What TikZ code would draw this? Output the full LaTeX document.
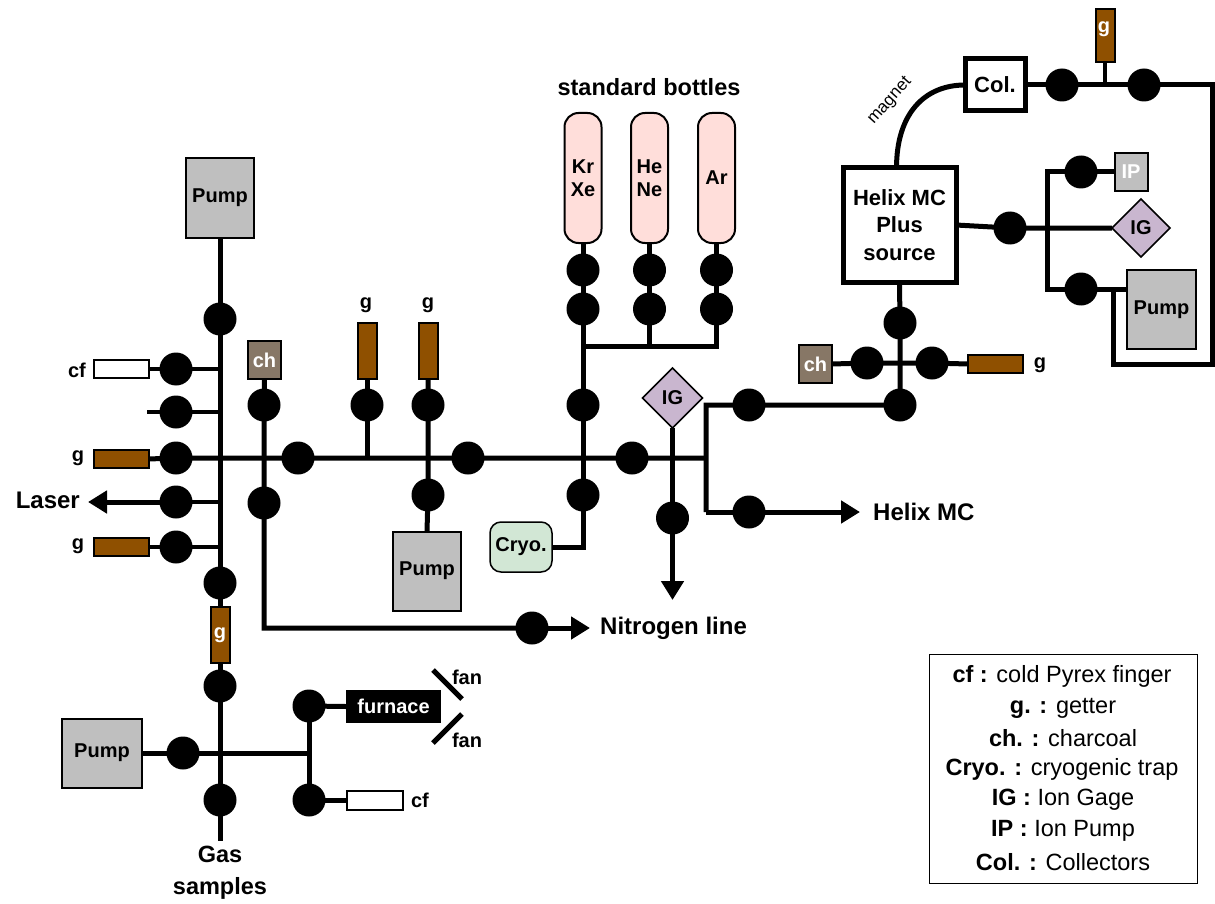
\documentclass[tikz,border=0pt]{standalone}
\usepackage{fontspec}
\setmainfont{Liberation Sans}
\usetikzlibrary{arrows.meta,backgrounds,shapes.geometric}
\definecolor{getter}{HTML}{8F5000}
\definecolor{pumpgray}{HTML}{BFBFBF}
\definecolor{charcoal}{HTML}{877766}
\definecolor{gage}{HTML}{C9B6CF}
\definecolor{bottle}{HTML}{FFDEDA}
\definecolor{cryo}{HTML}{D2E7D5}
\tikzset{
  pipe/.style={line width=5pt,line join=miter},
  thinpipe/.style={line width=4pt},
  flow/.style={pipe,-{Triangle[length=19pt,width=22pt]}},
  valve/.style={circle,fill=black,draw=none,minimum size=33pt,inner sep=0pt,outer sep=0pt},
  bx/.style={rectangle,draw=black,line width=2pt,inner sep=0pt,outer sep=0pt,font=\fontsize{20}{24}\selectfont\bfseries},
  pumpbox/.style={bx,fill=pumpgray},
  gh/.style={bx,fill=getter,minimum width=55pt,minimum height=18pt},
  gv/.style={bx,fill=getter,minimum width=19pt,minimum height=56pt,text=white},
  cfbox/.style={bx,fill=white,minimum width=55pt,minimum height=18pt},
  chbox/.style={bx,fill=charcoal,text=white,minimum width=33pt,minimum height=38pt},
  gagebox/.style={diamond,aspect=1,draw=black,line width=1.5pt,fill=gage,inner sep=0pt,outer sep=0pt,minimum size=60pt,font=\fontsize{20}{24}\selectfont\bfseries},
  bottlebox/.style={rectangle,rounded corners=14pt,draw=black,line width=2pt,fill=bottle,minimum width=37pt,minimum height=130pt,inner sep=0pt,outer sep=0pt,align=center,font=\fontsize{20}{24}\selectfont\bfseries},
  lab/.style={inner sep=0pt,font=\fontsize{20}{24}\selectfont\bfseries},
  biglab/.style={inner sep=0pt,font=\fontsize{24}{29}\selectfont\bfseries,align=center},
  legendline/.style={inner sep=0pt,font=\fontsize{23.5}{28}\selectfont}
}
\begin{document}
\begin{tikzpicture}[x=1pt,y=-1pt]
\useasboundingbox (0,0) rectangle (1215,904);
% upper left column
\node[pumpbox,minimum width=68pt,minimum height=79pt] (pumpT) at (220,198) {Pump};
\node[valve] (v1) at (220,319) {};
\node[valve] (vcf) at (176,369) {};
\node[valve] (vstub) at (176,412) {};
\node[valve] (vg1) at (176,458) {};
\node[valve] (vlaser) at (176,502) {};
\node[valve] (vg2) at (176,547) {};
\node[valve] (v2) at (220,583) {};
\node[gv,minimum height=56pt] (gcol) at (220,635) {g};
\node[valve] (v3) at (220,686) {};
\node[valve] (v4) at (220,800) {};
\node[cfbox] (cfL) at (121,369) {};
\node[gh] (gL1) at (121,459) {};
\node[gh] (gL2) at (121,547) {};
\node[lab] (cfLl) at (77,370) {cf};
\node[lab] (gL1l) at (78,458) {g};
\node[lab] (gL2l) at (78,546) {g};
\node[biglab,anchor=east] (laser) at (80,500) {Laser};
\coordinate (stub) at (147,412);
\coordinate (laserEnd) at (88,502);
\coordinate (jc1) at (220,369);
\coordinate (jc2) at (220,412);
\coordinate (jc3) at (220,502);
\coordinate (jc4) at (220,547);
\coordinate (bottomEnd) at (220,841);
% charcoal + nitrogen
\node[chbox] (ch1) at (264.5,360) {ch};
\node[valve] (vch1) at (264,405) {};
\node[valve] (vch2) at (264,503) {};
\node[valve] (vN) at (532,628) {};
\coordinate (cornerN) at (264,628);
\coordinate (nEnd) at (590,628);
\node[biglab,anchor=west] (nitro) at (600,628) {Nitrogen line};
% main line
\node[valve] (m1) at (298,458) {};
\node[valve] (m2) at (468,458) {};
\node[valve] (m3) at (632,458) {};
\coordinate (m4) at (706,458);
\node[gv] (g1) at (367,351) {};
\node[gv] (g2) at (428,351) {};
\node[lab] (g1l) at (366,305) {g};
\node[lab] (g2l) at (428,305) {g};
\node[valve] (vg3) at (367,405) {};
\node[valve] (vg4) at (428,405) {};
\node[valve] (vp) at (428,495) {};
\node[pumpbox,minimum width=68pt,minimum height=79pt] (pumpM) at (427,571) {Pump};
\coordinate (jg3) at (367,458);
% bottles
\node[biglab,font=\fontsize{23.5}{28}\selectfont\bfseries] (stdb) at (649,87) {standard bottles};
\node[bottlebox] (b1) at (583,178) {Kr\\[-1pt]Xe};
\node[bottlebox] (b2) at (649.5,178) {He\\[-1pt]Ne};
\node[bottlebox] (b3) at (716.5,178) {Ar};
\node[valve] (b1a) at (583,270) {};
\node[valve] (b1b) at (583,309) {};
\node[valve] (b2a) at (649.5,270) {};
\node[valve] (b2b) at (649.5,309) {};
\node[valve] (b3a) at (716.5,270) {};
\node[valve] (b3b) at (716.5,309) {};
\coordinate (jb1) at (583,346);
\coordinate (jb2) at (649.5,346);
\coordinate (jb3) at (716.5,346);
\node[valve] (c1) at (583,405) {};
\node[valve] (c2) at (583,495) {};
\node[rectangle,rounded corners=11pt,draw=black,line width=1.5pt,fill=cryo,minimum width=62pt,minimum height=50pt,inner sep=0pt,outer sep=0pt,font=\fontsize{20}{24}\selectfont\bfseries] (cryo) at (521,547) {Cryo.};
\coordinate (jcry) at (583,547);
% IG centre
\node[gagebox] (ig1) at (672.5,398) {IG};
\node[valve] (vig) at (672.5,518) {};
\coordinate (igEnd) at (672.5,600);
% helix branches
\coordinate (hTop) at (706,405);
\coordinate (hBot) at (706,512);
\node[valve] (h1) at (749,405) {};
\node[valve] (h2) at (749,512) {};
\coordinate (hEnd) at (860,512);
\node[biglab,anchor=west] (helixl) at (873,512) {Helix MC};
\node[valve] (s1) at (900,405) {};
\node[valve] (s2) at (900,323) {};
\coordinate (scross) at (900,363);
\node[chbox] (ch2) at (815.5,364) {ch};
\node[valve] (s3) at (867,363) {};
\node[valve] (s4) at (932,363) {};
\node[gh] (g5) at (995,364) {};
\node[lab] (g5l) at (1040,365) {g};
% helix source
\node[bx,line width=5pt,fill=white,minimum width=113pt,minimum height=114pt,align=center,font=\fontsize{22}{27.5}\selectfont\bfseries] (helix) at (899.5,225) {Helix MC\\Plus\\source};
\node[bx,line width=5pt,fill=white,minimum width=60pt,minimum height=52pt,font=\fontsize{22}{27}\selectfont\bfseries] (col) at (995,85) {Col.};
\node[inner sep=0pt,rotate=48,font=\fontsize{17}{20}\selectfont] (magnet) at (890,101) {magnet};
\node[valve] (t1) at (1062,85) {};
\node[valve] (t2) at (1144,85) {};
\node[gv,minimum height=53pt] (gT) at (1105,36) {};
\node[lab,text=white] (gTl) at (1104,29) {g};
\coordinate (jt) at (1105,85);
\coordinate (rTop) at (1212,85);
\coordinate (rBot) at (1212,364);
\coordinate (rLeft) at (1113,364);
\coordinate (rUp) at (1113,289);
% pump group
\node[valve] (p0) at (1010,228) {};
\node[valve] (p1) at (1081,172) {};
\node[valve] (p2) at (1081,289) {};
\coordinate (pT) at (1047,172);
\coordinate (pB) at (1047,289);
\coordinate (pM) at (1047,228);
\node[bx,fill=pumpgray,text=white,minimum width=33pt,minimum height=38pt] (ip) at (1131,172) {IP};
\node[gagebox,minimum size=58pt] (ig2) at (1141,228) {IG};
\node[pumpbox,minimum width=69pt,minimum height=79pt] (pumpR) at (1161.5,309.5) {Pump};
% lower left
\node[pumpbox,minimum width=80pt,minimum height=69pt] (pumpB) at (102,753) {Pump};
\node[valve] (l1) at (183,753) {};
\coordinate (lc) at (220,753);
\coordinate (lr) at (309,753);
\node[valve] (l2) at (309,706) {};
\node[valve] (l3) at (309,800) {};
\node[rectangle,fill=black,text=white,inner sep=0pt,minimum width=95pt,minimum height=33pt,font=\fontsize{20}{24}\selectfont\bfseries] (furnace) at (393.5,706.5) {furnace};
\node[cfbox,minimum width=56pt,minimum height=19pt] (cfB) at (375,800) {};
\node[lab] (cfBl) at (420,800) {cf};
\node[lab] (fan1) at (467,677) {fan};
\node[lab] (fan2) at (467,740) {fan};
\coordinate (f1a) at (433,670);
\coordinate (f1b) at (462,699);
\coordinate (f2a) at (462,714);
\coordinate (f2b) at (433,743);
\node[biglab,font=\fontsize{23.5}{32}\selectfont\bfseries] (gas) at (220,873) {Gas\\samples};
% legend
\node[rectangle,draw=black,line width=1pt,minimum width=268pt,minimum height=229pt,inner sep=0pt] (legend) at (1063,768.5) {};
\node[legendline] (leg1) at (1062,676) {\textbf{cf :} cold Pyrex finger};
\node[legendline] (leg2) at (1063,708) {\textbf{g. :} getter};
\node[legendline] (leg3) at (1063,738) {\textbf{ch. :} charcoal};
\node[legendline] (leg4) at (1062,769) {\textbf{Cryo. :} cryogenic trap};
\node[legendline] (leg5) at (1063,800) {\textbf{IG :} Ion Gage};
\node[legendline] (leg6) at (1063,831) {\textbf{IP :} Ion Pump};
\node[legendline] (leg7) at (1063,862) {\textbf{Col. :} Collectors};
% connectors
\begin{scope}[on background layer]
\draw[pipe] (pumpT.south) -- (v1.center) -- (v2.center) -- (gcol.north);
\draw[pipe] (gcol.south) -- (v3.center) -- (v4.center) -- (bottomEnd);
\draw[thinpipe] (cfL.east) -- (vcf.center) -- (jc1);
\draw[thinpipe] (stub) -- (vstub.center) -- (jc2);
\draw[thinpipe] (vlaser.center) -- (jc3);
\draw[flow] (vlaser.center) -- (laserEnd);
\draw[thinpipe] (gL2.east) -- (vg2.center) -- (jc4);
\draw[pipe] (gL1.east) -- (vg1.center) -- (m1.center) -- (m2.center) -- (m3.center) -- (m4);
\draw[pipe] (ch1.south) -- (vch1.center) -- (vch2.center) -- (cornerN) -- (vN.center);
\draw[flow] (vN.center) -- (nEnd);
\draw[pipe] (g1.south) -- (vg3.center) -- (jg3);
\draw[pipe] (g2.south) -- (vg4.center) -- (vp.center) -- (pumpM.north);
\draw[pipe] (b1.south) -- (b1a.center) -- (b1b.center) -- (jb1);
\draw[pipe] (b2.south) -- (b2a.center) -- (b2b.center) -- (jb2);
\draw[pipe] (b3.south) -- (b3a.center) -- (b3b.center) -- (jb3) -- (jb1) -- (c1.center) -- (c2.center) -- (jcry) -- (cryo.east);
\draw[pipe] (ig1.south) -- (vig.center);
\draw[flow] (vig.center) -- (igEnd);
\draw[pipe] (hBot) -- (hTop) -- (h1.center) -- (s1.center) -- (s2.center) -- (helix.south);
\draw[pipe] (hBot) -- (h2.center);
\draw[flow] (h2.center) -- (hEnd);
\draw[pipe] (ch2.east) -- (s3.center) -- (s4.center) -- (g5.west);
\draw[pipe] ([xshift=-3pt]helix.north) .. controls +(0,-55) and +(-40,0) .. (col.west);
\draw[pipe] (col.east) -- (t1.center) -- (t2.center) -- (rTop) -- (rBot) -- (rLeft) -- (rUp);
\draw[thinpipe] (gT.south) -- (jt);
\draw[pipe] (helix.east) -- (p0.center) -- (ig2.west);
\draw[pipe] (pumpR.west |- pB) -- (p2.center) -- (pB) -- (pT) -- (p1.center) -- (ip.west);
\draw[pipe] (pumpB.east) -- (l1.center) -- (lc) -- (lr);
\draw[pipe] (l2.center) -- (l3.center);
\draw[pipe] (l2.center) -- (furnace.west);
\draw[pipe] (l3.center) -- (cfB.west);
\draw[pipe] (f1a) -- (f1b);
\draw[pipe] (f2a) -- (f2b);
\end{scope}
\end{tikzpicture}
\end{document}
